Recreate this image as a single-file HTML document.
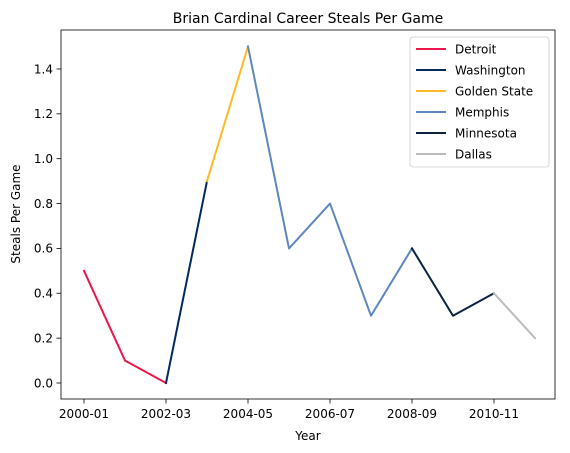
<!DOCTYPE html>
<html><head><meta charset="utf-8">
<style>
body{margin:0;background:#fff;}
svg{display:block;font-family:"DejaVu Sans","Liberation Sans",sans-serif;}
</style></head>
<body>
<svg id="chart" width="570" height="453" viewBox="0 0 570 453" xmlns="http://www.w3.org/2000/svg">
<rect x="0" y="0" width="570" height="453" fill="#fff"/>
<text x="308" y="23" font-size="14" text-anchor="middle">Brian Cardinal Career Steals Per Game</text>
<g id="grid"></g>
<g id="series"></g>
<rect x="61" y="30" width="494" height="369" fill="none" stroke="#000" stroke-width="0.8"/>
<text x="308" y="440" font-size="12" text-anchor="middle">Year</text>
<text x="20" y="214" font-size="12" text-anchor="middle" transform="rotate(-90 20 214)">Steals Per Game</text>
<g id="legend"></g>
</svg>
<script>
const seasonLabels = ["2000-01","2002-03","2004-05","2006-07","2008-09","2010-11"];
const seasonLabelIdx = [0,2,4,6,8,10];
const yTicks = [0.0,0.2,0.4,0.6,0.8,1.0,1.2,1.4];
const teams = ["Detroit","Washington","Golden State","Memphis","Minnesota","Dallas"];
const teamColors = ["#ed174c","#002b5c","#fdb927","#5d87bd","#0c2340","#bbbbbb"];
const teamIdx = [[0,1,2],[2,3],[3,4],[4,5,6,7,8],[8,9,10],[10,11]];
const teamVals = [[0.5,0.1,0.0],[0.0,0.9],[0.9,1.5],[1.5,0.6,0.8,0.3,0.6],[0.6,0.3,0.4],[0.4,0.2]];

const NS="http://www.w3.org/2000/svg";
const xs = i => 84 + 41*i;
const ys = v => 383 - v*224.3;
function mk(tag, attrs, parent){const e=document.createElementNS(NS,tag);for(const k in attrs)e.setAttribute(k,attrs[k]);parent.appendChild(e);return e;}
const grid=document.getElementById('grid');
seasonLabels.forEach((l,j)=>{
  const x=xs(seasonLabelIdx[j]);
  const t=mk('line',{x1:x,x2:x,y1:399,y2:403.5,stroke:'#000','stroke-width':0.8},grid);
  
  
  const tx=mk('text',{x:x,y:418,'font-size':12,'text-anchor':'middle'},grid);
  tx.textContent=l;
  
  
});
yTicks.forEach(v=>{
  const y=ys(v);
  const t=mk('line',{x1:56.5,x2:61,y1:y,y2:y,stroke:'#000','stroke-width':0.8},grid);
  
  
  const tx=mk('text',{x:53,y:y+4.3,'font-size':12,'text-anchor':'end'},grid);
  tx.textContent=v.toFixed(1);
  
  
});
const sg=document.getElementById('series');
teams.forEach((t,k)=>{
  const pts=teamIdx[k].map((i,j)=>xs(i)+','+ys(teamVals[k][j])).join(' ');
  const p=mk('polyline',{points:pts,fill:'none',stroke:teamColors[k],'stroke-width':2,'stroke-linejoin':'round','stroke-linecap':'square'},sg);
  
  
});
const lg=document.getElementById('legend');
const box=mk('rect',{x:410,y:37,width:139,height:130,rx:3,fill:'#fff','fill-opacity':0.8,stroke:'#ccc','stroke-width':0.8},lg);


teams.forEach((t,k)=>{
  const y=49+21*k;
  const g=mk('g',{},lg);
  
  
  mk('line',{x1:416,x2:446,y1:y,y2:y,stroke:teamColors[k],'stroke-width':2},g);
  const tx=mk('text',{x:455,y:y+4.3,'font-size':12},g);
  tx.textContent=t;
});
</script>
</body></html>
